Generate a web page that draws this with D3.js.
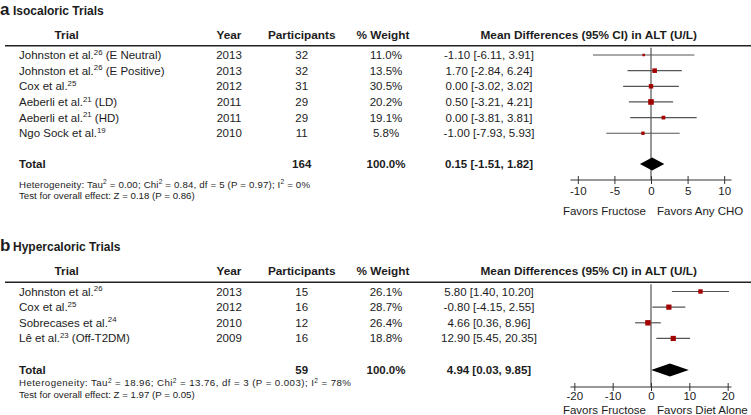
<!DOCTYPE html>
<html><head><meta charset="utf-8">
<script src="https://cdn.jsdelivr.net/npm/d3@7"></script>
<style>
body{margin:0;background:#fff;}
svg{display:block;font-family:"Liberation Sans",Arial,Helvetica,sans-serif;}
</style></head>
<body>
<svg id="c" width="751" height="415"></svg>
<script>
// ---------- Panel a: Isocaloric trials (table order) ----------
const isoTrials = [["Johnston et al.","26"," (E Neutral)"],["Johnston et al.","26"," (E Positive)"],["Cox et al.","25",""],["Aeberli et al.","21"," (LD)"],["Aeberli et al.","21"," (HD)"],["Ngo Sock et al.","19",""]];
const isoYears = [2013, 2013, 2012, 2011, 2011, 2010];
const isoParticipants = [32, 32, 31, 29, 29, 11];
const isoWeightText = ["11.0%","13.5%","30.5%","20.2%","19.1%","5.8%"];
const isoCIText = ["-1.10 [-6.11, 3.91]","1.70 [-2.84, 6.24]","0.00 [-3.02, 3.02]","0.50 [-3.21, 4.21]","0.00 [-3.81, 3.81]","-1.00 [-7.93, 5.93]"];
// plotted markers, top to bottom as drawn in the figure
const isoPlotMD = [-1.00, 0.50, 0.00, 0.00, 1.70, -1.10];
const isoPlotLo = [-7.93, -3.21, -3.81, -3.02, -2.84, -6.11];
const isoPlotHi = [5.93, 4.21, 3.81, 3.02, 6.24, 3.91];
const isoPlotW = [5.8, 20.2, 19.1, 30.5, 13.5, 11.0];
const isoTotal = {n:164, w:"100.0%", text:"0.15 [-1.51, 1.82]", md:0.15, lo:-1.51, hi:1.82};
const isoHet = ["Heterogeneity: Tau","2"," = 0.00; Chi","2"," = 0.84, df = 5 (P = 0.97); I","2"," = 0%"];
const isoTest = "Test for overall effect: Z = 0.18 (P = 0.86)";
const isoTicks = [-10, -5, 0, 5, 10];
const isoFavors = ["Favors Fructose", "Favors Any CHO"];

// ---------- Panel b: Hypercaloric trials ----------
const hypTrials = [["Johnston et al.","26",""],["Cox et al.","25",""],["Sobrecases et al.","24",""],["Lê et al.","23"," (Off-T2DM)"]];
const hypYears = [2013, 2012, 2010, 2009];
const hypParticipants = [15, 16, 12, 16];
const hypWeightText = ["26.1%","28.7%","26.4%","18.8%"];
const hypCIText = ["5.80 [1.40, 10.20]","-0.80 [-4.15, 2.55]","4.66 [0.36, 8.96]","12.90 [5.45, 20.35]"];
const hypPlotMD = [12.90, 4.66, -0.80, 5.80];
const hypPlotLo = [5.45, 0.36, -4.15, 1.40];
const hypPlotHi = [20.35, 8.96, 2.55, 10.20];
const hypPlotW = [18.8, 26.4, 28.7, 26.1];
const hypTotal = {n:59, w:"100.0%", text:"4.94 [0.03, 9.85]", md:4.94, lo:0.03, hi:9.85};
const hypHet = ["Heterogeneity: Tau","2"," = 18.96; Chi","2"," = 13.76, df = 3 (P = 0.003); I","2"," = 78%"];
const hypTest = "Test for overall effect: Z = 1.97 (P = 0.05)";
const hypTicks = [-20, -10, 0, 10, 20];
const hypFavors = ["Favors Fructose", "Favors Diet Alone"];

const svg = d3.select("#c");
const TXT = "#1c1c1c";

function supText(g, x, y, parts, size, anchor, weight){
  const t = g.append("text").attr("x", x).attr("y", y).attr("font-size", size)
    .attr("fill", TXT).attr("text-anchor", anchor || "start").attr("font-weight", weight || "normal");
  parts.forEach((p, i) => {
    if (i % 2 === 1) {
      t.append("tspan").text(p).attr("font-size", size*0.68).attr("dy", -size*0.38);
    } else {
      const ts = t.append("tspan").text(p);
      if (i > 0) ts.attr("dy", size*0.38);
    }
  });
  return t;
}

function panel(cfg){
  const g = svg.append("g");
  const fs = 11.5;
  // title
  g.append("text").attr("x", 0).attr("y", cfg.top + 14.5).attr("font-size", 17).attr("font-weight", "bold").attr("fill", TXT).text(cfg.letter);
  g.append("text").attr("x", 13).attr("y", cfg.top + 14.5).attr("font-size", 12).attr("font-weight", "bold").attr("fill", TXT).text(cfg.title);
  // headers
  const hy = cfg.top + 38.5;
  const heads = [["Trial", 66.7], ["Year", 229], ["Participants", 301.7], ["% Weight", 383], ["Mean Differences (95% CI) in ALT (U/L)", 588.7]];
  heads.forEach(h => g.append("text").attr("x", h[1]).attr("y", hy).attr("text-anchor", "middle")
    .attr("font-size", 11.8).attr("font-weight", "bold").attr("fill", TXT).text(h[0]));
  const lineY = cfg.top + 45.7;
  g.append("line").attr("x1", 5).attr("x2", 751).attr("y1", lineY).attr("y2", lineY).attr("stroke", "#222").attr("stroke-width", 1.5);

  const n = cfg.trials.length;
  const y = d3.scalePoint().domain(d3.range(n)).range([cfg.top + 55, cfg.top + 55 + 15.65*(n-1)]);
  cfg.trials.forEach((t, i) => {
    const yy = y(i) + 4;
    supText(g, 19, yy, t, fs);
    g.append("text").attr("x", 229).attr("y", yy).attr("text-anchor", "middle").attr("font-size", fs).attr("fill", TXT).text(cfg.years[i]);
    g.append("text").attr("x", 301.7).attr("y", yy).attr("text-anchor", "middle").attr("font-size", fs).attr("fill", TXT).text(cfg.parts[i]);
    g.append("text").attr("x", 386).attr("y", yy).attr("text-anchor", "middle").attr("font-size", fs).attr("fill", TXT).text(cfg.wtext[i]);
    g.append("text").attr("x", 489).attr("y", yy).attr("text-anchor", "middle").attr("font-size", fs).attr("fill", TXT).text(cfg.citext[i]);
  });
  const ty = cfg.totalY;
  g.append("text").attr("x", 19).attr("y", ty + 4).attr("font-size", fs).attr("font-weight", "bold").attr("fill", TXT).text("Total");
  g.append("text").attr("x", 301.7).attr("y", ty + 4).attr("text-anchor", "middle").attr("font-size", fs).attr("font-weight", "bold").attr("fill", TXT).text(cfg.total.n);
  g.append("text").attr("x", 386).attr("y", ty + 4).attr("text-anchor", "middle").attr("font-size", fs).attr("font-weight", "bold").attr("fill", TXT).text(cfg.total.w);
  g.append("text").attr("x", 489).attr("y", ty + 4).attr("text-anchor", "middle").attr("font-size", fs).attr("font-weight", "bold").attr("fill", TXT).text(cfg.total.text);
  supText(g, 19, cfg.hetY + 3.5, cfg.het, 9.7).attr("textLength", cfg.hetLen).attr("lengthAdjust", "spacing");
  g.append("text").attr("x", 19).attr("y", cfg.hetY + 15).attr("font-size", 9.7).attr("fill", TXT).text(cfg.test);

  // forest plot
  const x = d3.scaleLinear().domain(cfg.domain).range([570.5, 731.5]);
  g.append("line").attr("x1", x(0)).attr("x2", x(0)).attr("y1", lineY + 2).attr("y2", cfg.axisY)
    .attr("stroke", "#444").attr("stroke-width", 1.1);
  const py = d3.scalePoint().domain(d3.range(n)).range([cfg.top + 55, cfg.top + 55 + 15.65*(n-1)]);
  cfg.md.forEach((m, i) => {
    g.append("line").attr("x1", x(cfg.lo[i])).attr("x2", x(cfg.hi[i])).attr("y1", py(i)).attr("y2", py(i))
      .attr("stroke", "#555").attr("stroke-width", 1.2);
  });
  const sz = d3.scaleSqrt().domain([0, 30.5]).range([0, 5.6]);
  cfg.md.forEach((m, i) => {
    const s = sz(cfg.w[i]);
    g.append("rect").attr("x", x(m) - s/2).attr("y", py(i) - s/2).attr("width", s).attr("height", s).attr("fill", "#a30000");
  });
  const T = cfg.total, dh = 6.5;
  g.append("path").attr("d", `M${x(T.lo)},${ty} L${x(T.md)},${ty-dh} L${x(T.hi)},${ty} L${x(T.md)},${ty+dh} Z`).attr("fill", "#000");

  const ax = g.append("g").attr("transform", `translate(0,${cfg.axisY})`)
    .call(d3.axisBottom(x).tickValues(cfg.ticks).tickFormat(d => String(d)).tickSize(4).tickPadding(cfg.tickPad).tickSizeOuter(0));
  ax.select(".domain").attr("stroke", "#333").attr("d", `M${x(cfg.domain[0])},0H${x(cfg.domain[1])}`);
  ax.selectAll(".tick line").attr("y1", -4).attr("y2", 4).attr("stroke", "#333");
  ax.selectAll(".tick text").attr("font-size", 11.5).attr("fill", TXT).attr("font-family", null);
  g.append("text").attr("x", x(0) - 5).attr("y", cfg.favY).attr("text-anchor", "end").attr("font-size", 11.5).attr("fill", TXT).text(cfg.favors[0]);
  g.append("text").attr("x", x(0) + 6).attr("y", cfg.favY).attr("text-anchor", "start").attr("font-size", 11.5).attr("fill", TXT).text(cfg.favors[1]);
}

panel({letter:"a", title:"Isocaloric Trials", top:0, trials:isoTrials, years:isoYears, parts:isoParticipants,
  wtext:isoWeightText, citext:isoCIText, total:isoTotal, totalY:164, hetY:184, het:isoHet, hetLen:291, test:isoTest,
  domain:[-11, 11], md:isoPlotMD, lo:isoPlotLo, hi:isoPlotHi, w:isoPlotW, axisY:180, tickPad:2.5, ticks:isoTicks, favY:215, favors:isoFavors});
panel({letter:"b", title:"Hypercaloric Trials", top:236.5, trials:hypTrials, years:hypYears, parts:hypParticipants,
  wtext:hypWeightText, citext:hypCIText, total:hypTotal, totalY:370, hetY:382.7, het:hypHet, hetLen:332, test:hypTest,
  domain:[-21, 21], md:hypPlotMD, lo:hypPlotLo, hi:hypPlotHi, w:hypPlotW, axisY:387, tickPad:1, ticks:hypTicks, favY:414, favors:hypFavors});
</script>
</body></html>
